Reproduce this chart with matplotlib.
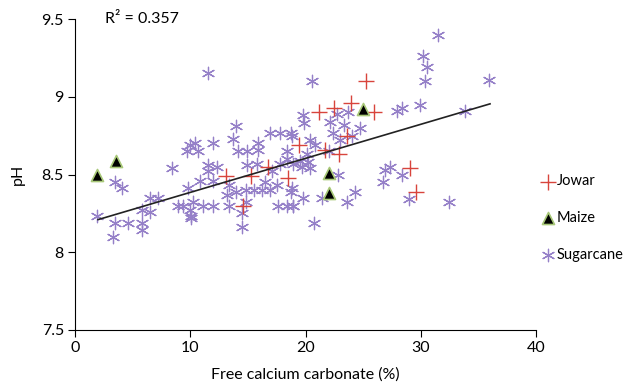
import numpy as np
import matplotlib
matplotlib.use("Agg")
import matplotlib.pyplot as plt

plt.rcParams['font.family'] = ['Lato', 'DejaVu Sans']

# Jowar
jowar_x = [25.2, 21.2, 22.5, 23.9, 25.9, 23.6, 19.4, 21.7, 22.9, 13.1, 15.3, 16.7,
           18.5, 14.6, 29.1, 29.6]
jowar_y = [9.10, 8.90, 8.93, 8.96, 8.90, 8.75, 8.69, 8.66, 8.63, 8.49, 8.49, 8.55,
           8.48, 8.30, 8.54, 8.39]

# Maize
maize_x = [1.9, 3.6, 25.0, 22.0, 22.0]
maize_y = [8.50, 8.59, 8.92, 8.51, 8.38]

# Sugarcane
cane_x = [1.9, 3.5, 4.1, 3.5, 4.6, 3.3, 5.8, 5.8, 5.8, 6.5, 7.2, 6.5, 8.4, 9.7, 10.4,
          8.9, 9.4, 10.0, 9.8, 10.1,
          10.0, 10.7, 12.0, 14.0, 13.7, 15.9, 15.9, 16.9, 17.8, 18.7, 14.1, 14.9, 18.4,
          18.4, 11.5, 11.5, 12.3, 14.9, 15.8, 17.1, 17.8, 10.8, 12.0, 13.4, 14.0, 14.8,
          15.5, 16.2, 16.9, 17.5, 18.7, 10.2, 11.1, 12.0, 13.4, 14.8, 17.6, 18.4, 18.9,
          10.1, 14.5, 14.5, 13.2, 16.5,
          20.6, 19.8, 19.9, 22.1, 22.7, 23.7, 23.3, 24.7, 22.4, 24.0, 23.0, 18.8, 20.4,
          20.8, 22.0, 20.1, 19.5, 20.2, 18.9, 19.7, 20.4, 22.8, 18.8, 24.3, 19.8, 21.4,
          18.9, 23.6, 20.7, 26.9, 26.7, 27.9,
          31.5, 30.2, 30.5, 30.4, 35.9, 28.4, 29.9, 33.8, 28.4, 29.0, 32.4, 27.3, 11.5]
cane_y = [8.23, 8.45, 8.41, 8.19, 8.19, 8.10, 8.19, 8.14, 8.27, 8.35, 8.35, 8.26, 8.54,
          8.65, 8.70, 8.30, 8.30, 8.27, 8.41, 8.22,
          8.69, 8.65, 8.70, 8.81, 8.73, 8.70, 8.66, 8.77, 8.77, 8.77, 8.65, 8.65, 8.65,
          8.60, 8.56, 8.52, 8.55, 8.56, 8.57, 8.52, 8.57, 8.46, 8.46, 8.43, 8.39, 8.40,
          8.40, 8.40, 8.40, 8.43, 8.39, 8.32, 8.30, 8.30, 8.30, 8.32, 8.30, 8.30, 8.30,
          8.23, 8.25, 8.16, 8.37, 8.45,
          9.10, 8.88, 8.83, 8.84, 8.89, 8.90, 8.82, 8.80, 8.77, 8.75, 8.72, 8.75, 8.72,
          8.69, 8.65, 8.63, 8.59, 8.58, 8.57, 8.55, 8.54, 8.50, 8.41, 8.39, 8.35, 8.35,
          8.30, 8.32, 8.19, 8.53, 8.45, 8.91,
          9.40, 9.26, 9.19, 9.10, 9.11, 8.93, 8.95, 8.91, 8.50, 8.34, 8.32, 8.55, 9.15]

# Trend line
trend_x = [2, 36]
trend_slope = 0.0219
trend_icept = 8.166

fig = plt.figure(figsize=(6.27, 3.88), dpi=100)
ax = fig.add_axes([0.1196, 0.1495, 0.7355, 0.8015])

tx = np.array(trend_x)
ax.plot(tx, trend_icept + trend_slope * tx, color='#222222', lw=1.2, zorder=4)

ax.scatter(cane_x, cane_y, marker=(6, 2, 0), s=80, color='#9580c8', lw=0.9,
           label='Sugarcane', zorder=2)
ax.scatter(jowar_x, jowar_y, marker='+', s=140, color='#d8443c', lw=1.0,
           label='Jowar', zorder=3)
ax.scatter(maize_x, maize_y, marker='^', s=75, facecolor='black', edgecolor='#a8c878',
           lw=1.2, label='Maize', zorder=3)

ax.set_xlim(0, 40)
ax.set_ylim(7.5, 9.5)
ax.set_xticks([0, 10, 20, 30, 40])
ax.set_yticks([7.5, 8, 8.5, 9, 9.5])
ax.set_yticklabels(['7.5', '8', '8.5', '9', '9.5'])
ax.spines['top'].set_visible(False)
ax.spines['right'].set_visible(False)
ax.tick_params(direction='out', length=5, labelsize=11.5, pad=3)
ax.set_xlabel('Free calcium carbonate (%)', fontsize=11.5, labelpad=9)
ax.set_ylabel('pH', fontsize=11.5, labelpad=12)

ax.text(2.6, 9.5, 'R² = 0.357', fontsize=11.5, va='center')

handles, labels = ax.get_legend_handles_labels()
order = [1, 2, 0]
ax.legend([handles[i] for i in order], [labels[i] for i in order],
          loc='center left', bbox_to_anchor=(0.995, 0.36), frameon=False,
          fontsize=10.5, labelspacing=1.55, handletextpad=0.05, handlelength=1.1,
          borderaxespad=0.0)

fig.savefig('out.png', dpi=100)
